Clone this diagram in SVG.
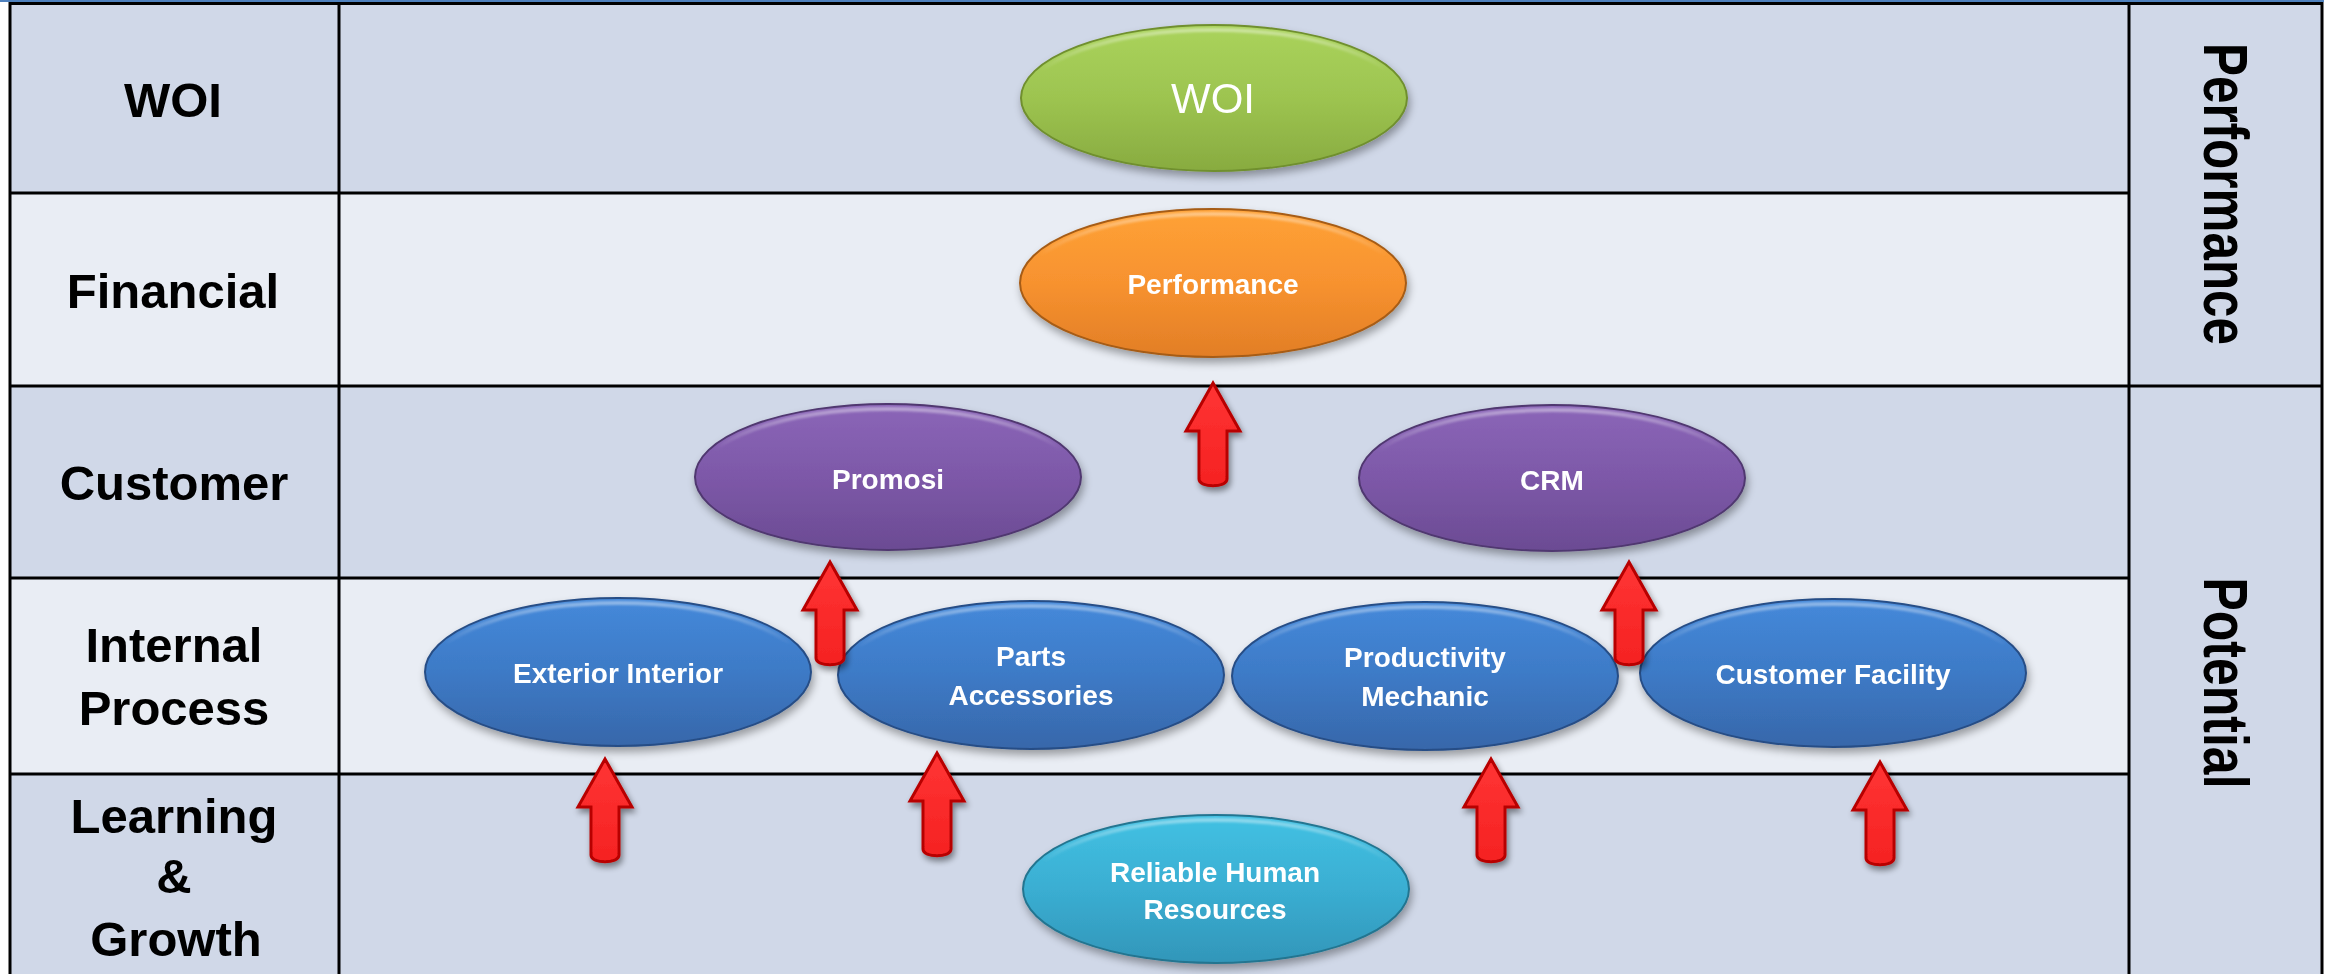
<svg xmlns="http://www.w3.org/2000/svg" width="2328" height="974" viewBox="0 0 2328 974">
<defs>
<style>
.dark{fill:#D0D8E8}
.light{fill:#E9EDF4}
.grid{stroke:#000;stroke-width:3;fill:none}
.hdr{font-family:"Liberation Sans",Arial,sans-serif;font-weight:bold;font-size:49px;fill:#000;text-anchor:middle}
.side{font-family:"Liberation Sans",Arial,sans-serif;font-weight:bold;font-size:63px;fill:#000;text-anchor:middle}
.lbl{font-family:"Liberation Sans",Arial,sans-serif;font-weight:bold;font-size:28px;fill:#fff;text-anchor:middle}
.big{font-family:"Liberation Sans",Arial,sans-serif;font-size:42px;fill:#fff;text-anchor:middle}
.hl{fill:none;stroke:url(#hlg);stroke-width:4;filter:url(#soft)}
.arrow{fill:url(#gRed);stroke:#B80000;stroke-width:3;stroke-linejoin:miter;filter:url(#shadowA)}
</style>
<linearGradient id="gGreen" x1="0" y1="0" x2="0" y2="1"><stop offset="0" stop-color="#AAD35C"/><stop offset="0.5" stop-color="#9DC450"/><stop offset="1" stop-color="#88AB40"/></linearGradient>
<linearGradient id="gOrange" x1="0" y1="0" x2="0" y2="1"><stop offset="0" stop-color="#FFA236"/><stop offset="0.5" stop-color="#F7922F"/><stop offset="1" stop-color="#E27E26"/></linearGradient>
<linearGradient id="gPurple" x1="0" y1="0" x2="0" y2="1"><stop offset="0" stop-color="#8B66B8"/><stop offset="0.5" stop-color="#7D58A8"/><stop offset="1" stop-color="#6B4B93"/></linearGradient>
<linearGradient id="gBlue" x1="0" y1="0" x2="0" y2="1"><stop offset="0" stop-color="#4589DA"/><stop offset="0.5" stop-color="#3D7AC6"/><stop offset="1" stop-color="#3767AA"/></linearGradient>
<linearGradient id="gCyan" x1="0" y1="0" x2="0" y2="1"><stop offset="0" stop-color="#42C1E3"/><stop offset="0.5" stop-color="#3AAED2"/><stop offset="1" stop-color="#3296B9"/></linearGradient>
<linearGradient id="gRed" x1="0" y1="0" x2="0" y2="1"><stop offset="0" stop-color="#FF3434"/><stop offset="1" stop-color="#F52222"/></linearGradient>
<linearGradient id="hlg" x1="0" y1="0" x2="0" y2="1"><stop offset="0" stop-color="#fff" stop-opacity="0.4"/><stop offset="0.3" stop-color="#fff" stop-opacity="0"/><stop offset="1" stop-color="#fff" stop-opacity="0"/></linearGradient>
<filter id="soft"><feGaussianBlur stdDeviation="1"/></filter>
<filter id="shadow" x="-10%" y="-20%" width="125%" height="150%"><feGaussianBlur in="SourceAlpha" stdDeviation="4"/><feOffset dx="2" dy="5" result="b"/><feComponentTransfer><feFuncA type="linear" slope="0.35"/></feComponentTransfer><feMerge><feMergeNode/><feMergeNode in="SourceGraphic"/></feMerge></filter>
<filter id="shadowA" x="-40%" y="-20%" width="180%" height="150%"><feGaussianBlur in="SourceAlpha" stdDeviation="3"/><feOffset dx="2" dy="4" result="b"/><feComponentTransfer><feFuncA type="linear" slope="0.45"/></feComponentTransfer><feMerge><feMergeNode/><feMergeNode in="SourceGraphic"/></feMerge></filter>
<path id="arr" d="M0,0 L27,48 L14,48 L14,96 C14,105 -14,105 -14,96 L-14,48 L-27,48 Z"/>
</defs>

<g id="table">
<rect class="dark" x="10" y="3" width="2312" height="971"/>
<rect class="light" x="10" y="193" width="2119" height="193"/>
<rect class="light" x="10" y="578" width="2119" height="196"/>
<line x1="0" y1="1" x2="2324" y2="1" stroke="#4F81BD" stroke-width="2"/>
<path class="grid" d="M10,3.5 H2322 M10,193 H2129 M10,386 H2322 M10,578 H2129 M10,774 H2129 M10,2 V974 M339,2 V974 M2129,2 V974 M2322,2 V974"/>
<text class="hdr" x="173" y="117">WOI</text>
<text class="hdr" x="173" y="308">Financial</text>
<text class="hdr" x="174" y="500">Customer</text>
<text class="hdr" x="174" y="662">Internal</text>
<text class="hdr" x="174" y="725">Process</text>
<text class="hdr" x="174" y="833">Learning</text>
<text class="hdr" x="174" y="893">&amp;</text>
<text class="hdr" x="176" y="956">Growth</text>
<text class="side" transform="translate(2204,194) rotate(90)" textLength="302" lengthAdjust="spacingAndGlyphs">Performance</text>
<text class="side" transform="translate(2204,683) rotate(90)" textLength="211" lengthAdjust="spacingAndGlyphs">Potential</text>
</g>

<g id="node-woi" filter="url(#shadow)">
<ellipse cx="1214" cy="98" rx="193" ry="73" fill="url(#gGreen)" stroke="#6F8F2E" stroke-width="2"/>
<ellipse class="hl" cx="1214" cy="99" rx="189" ry="69"/>
<text class="big" x="1213" y="113">WOI</text>
</g>
<g id="node-performance" filter="url(#shadow)">
<ellipse cx="1213" cy="283" rx="193" ry="74" fill="url(#gOrange)" stroke="#A65C15" stroke-width="2"/>
<ellipse class="hl" cx="1213" cy="284" rx="189" ry="70"/>
<text class="lbl" x="1213" y="294">Performance</text>
</g>
<g id="node-promosi" filter="url(#shadow)">
<ellipse cx="888" cy="477" rx="193" ry="73" fill="url(#gPurple)" stroke="#50376F" stroke-width="2"/>
<ellipse class="hl" cx="888" cy="478" rx="189" ry="69"/>
<text class="lbl" x="888" y="489">Promosi</text>
</g>
<g id="node-crm" filter="url(#shadow)">
<ellipse cx="1552" cy="478" rx="193" ry="73" fill="url(#gPurple)" stroke="#50376F" stroke-width="2"/>
<ellipse class="hl" cx="1552" cy="479" rx="189" ry="69"/>
<text class="lbl" x="1552" y="490">CRM</text>
</g>
<g id="node-exterior" filter="url(#shadow)">
<ellipse cx="618" cy="672" rx="193" ry="74" fill="url(#gBlue)" stroke="#284E86" stroke-width="2"/>
<ellipse class="hl" cx="618" cy="673" rx="189" ry="70"/>
<text class="lbl" x="618" y="683">Exterior Interior</text>
</g>
<g id="node-parts" filter="url(#shadow)">
<ellipse cx="1031" cy="675" rx="193" ry="74" fill="url(#gBlue)" stroke="#284E86" stroke-width="2"/>
<ellipse class="hl" cx="1031" cy="676" rx="189" ry="70"/>
<text class="lbl" x="1031" y="666">Parts</text>
<text class="lbl" x="1031" y="705">Accessories</text>
</g>
<g id="node-productivity" filter="url(#shadow)">
<ellipse cx="1425" cy="676" rx="193" ry="74" fill="url(#gBlue)" stroke="#284E86" stroke-width="2"/>
<ellipse class="hl" cx="1425" cy="677" rx="189" ry="70"/>
<text class="lbl" x="1425" y="667">Productivity</text>
<text class="lbl" x="1425" y="706">Mechanic</text>
</g>
<g id="node-facility" filter="url(#shadow)">
<ellipse cx="1833" cy="673" rx="193" ry="74" fill="url(#gBlue)" stroke="#284E86" stroke-width="2"/>
<ellipse class="hl" cx="1833" cy="674" rx="189" ry="70"/>
<text class="lbl" x="1833" y="684">Customer Facility</text>
</g>
<g id="node-hr" filter="url(#shadow)">
<ellipse cx="1216" cy="889" rx="193" ry="74" fill="url(#gCyan)" stroke="#247590" stroke-width="2"/>
<ellipse class="hl" cx="1216" cy="890" rx="189" ry="70"/>
<text class="lbl" x="1215" y="882">Reliable Human</text>
<text class="lbl" x="1215" y="919">Resources</text>
</g>

<g id="connectors">
<use href="#arr" class="arrow" x="1213" y="383"/>
<use href="#arr" class="arrow" x="830" y="562"/>
<use href="#arr" class="arrow" x="1629" y="562"/>
<use href="#arr" class="arrow" x="605" y="759"/>
<use href="#arr" class="arrow" x="937" y="753"/>
<use href="#arr" class="arrow" x="1491" y="759"/>
<use href="#arr" class="arrow" x="1880" y="762"/>
</g>
</svg>
